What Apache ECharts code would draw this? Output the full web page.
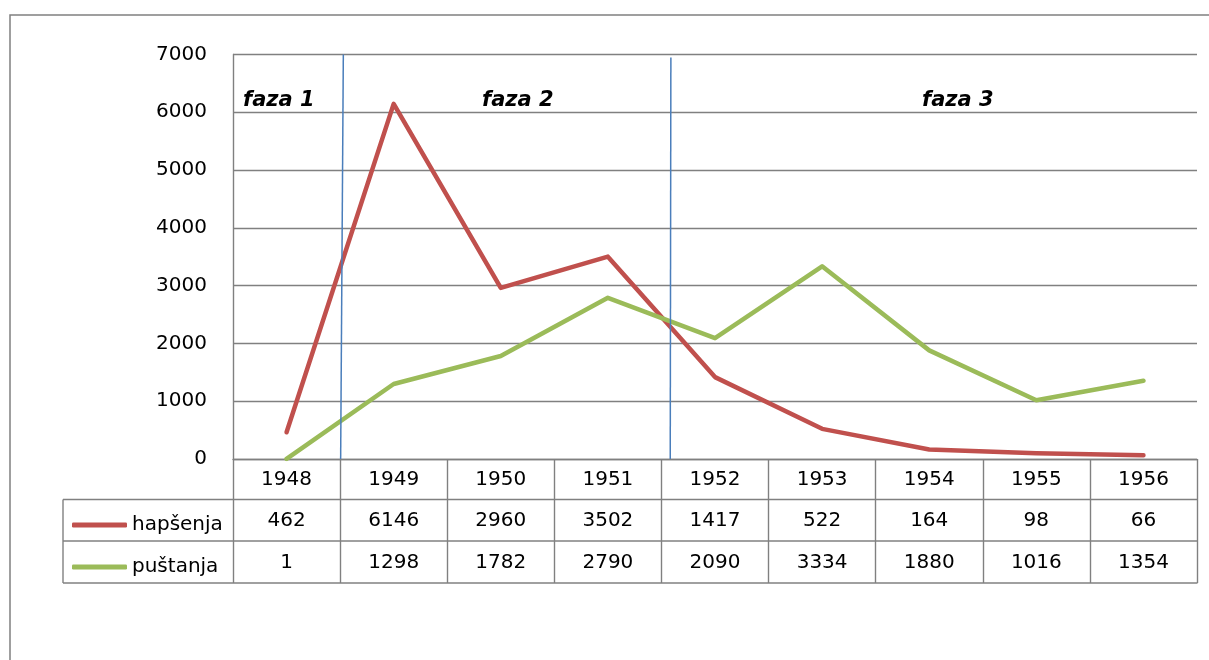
<!DOCTYPE html>
<html>
<head>
<meta charset="utf-8">
<script src="https://cdn.jsdelivr.net/npm/echarts@6/dist/echarts.min.js"></script>
<style>
  html, body { margin: 0; padding: 0; background: #fff; }
  #main { width: 1209px; height: 660px; }
</style>
</head>
<body>
<div id="main"></div>
<script>
// podaci
var years = ['1948', '1949', '1950', '1951', '1952', '1953', '1954', '1955', '1956'];
var hapsenja = [462, 6146, 2960, 3502, 1417, 522, 164, 98, 66];
var pustanja = [1, 1298, 1782, 2790, 2090, 3334, 1880, 1016, 1354];
var yTicks = [0, 1000, 2000, 3000, 4000, 5000, 6000, 7000];
// granice faza (u jedinicama kategorija, 0 = centar 1948)
var phaseLines = [[0.53, 7000, 0.505, 0], [3.588, 6948, 3.582, 0]];
var phaseNames = ['faza 1', 'faza 2', 'faza 3'];

var chart = echarts.init(document.getElementById('main'));
var font = 'DejaVu Sans';
var gray = '#808080';

var option = {
  animation: false,
  textStyle: { fontFamily: font },
  grid: { left: 233, right: 12, top: 54.5, bottom: 201 },
  legend: {
    orient: 'vertical',
    left: 67,
    top: 510,
    itemGap: 22,
    itemWidth: 55,
    itemHeight: 5,
    icon: 'roundRect',
    textStyle: { fontFamily: font, fontSize: 20, color: '#000', lineHeight: 20 },
    data: ['hapšenja', 'puštanja']
  },
  xAxis: [
    {
      type: 'category',
      data: years,
      boundaryGap: true,
      axisLine: { lineStyle: { color: gray, width: 1.4 } },
      axisTick: { show: true, interval: 0, length: 124, lineStyle: { color: gray, width: 1.4 } },
      axisLabel: {
        interval: 0,
        margin: 0,
        formatter: function (v, i) {
          return '{c|' + v + '}\n{c|' + hapsenja[i] + '}\n{c|' + pustanja[i] + '}';
        },
        rich: {
          c: { fontFamily: font, fontSize: 20, color: '#000', lineHeight: 41.5 }
        }
      }
    },
    { type: 'value', min: -0.5, max: 8.5, show: false }
  ],
  yAxis: {
    type: 'value',
    min: 0,
    max: 7000,
    interval: 1000,
    axisLine: { show: true, onZero: false, lineStyle: { color: gray, width: 1.4 } },
    axisTick: { show: false },
    splitLine: { lineStyle: { color: gray, width: 1.4 } },
    axisLabel: {
      margin: 26,
      fontFamily: font,
      fontSize: 20,
      color: '#000',
      formatter: function (v) { return yTicks.indexOf(v) >= 0 ? String(v) : ''; }
    }
  },
  series: [
    {
      name: 'hapšenja',
      type: 'line',
      data: hapsenja,
      showSymbol: false,
      color: '#C0504D',
      lineStyle: { width: 4.5, color: '#C0504D', cap: 'round', join: 'round' }
    },
    {
      name: 'puštanja',
      type: 'line',
      data: pustanja,
      showSymbol: false,
      color: '#9BBB59',
      lineStyle: { width: 4.5, color: '#9BBB59', cap: 'round', join: 'round' }
    },
    {
      type: 'line',
      xAxisIndex: 1,
      data: [],
      clip: false,
      markLine: {
        silent: true,
        symbol: 'none',
        label: { show: false },
        lineStyle: { color: '#4A7EBB', width: 1.5, type: 'solid' },
        data: phaseLines.map(function (p) {
          return [{ coord: [p[0], p[1]] }, { coord: [p[2], p[3]] }];
        })
      }
    }
  ],
  graphic: [
    // okvir
    { type: 'polyline', shape: { points: [[10, 660], [10, 15], [1209, 15]] }, style: { stroke: gray, lineWidth: 1.5, fill: null } },
    // tablica podataka
    { type: 'line', shape: { x1: 63, y1: 499.5, x2: 1197.5, y2: 499.5 }, style: { stroke: gray, lineWidth: 1.4 } },
    { type: 'line', shape: { x1: 63, y1: 541, x2: 1197.5, y2: 541 }, style: { stroke: gray, lineWidth: 1.4 } },
    { type: 'line', shape: { x1: 63, y1: 583, x2: 1197.5, y2: 583 }, style: { stroke: gray, lineWidth: 1.4 } },
    { type: 'line', shape: { x1: 63, y1: 499.5, x2: 63, y2: 583 }, style: { stroke: gray, lineWidth: 1.4 } },
    // nazivi faza
    { type: 'text', left: 243, top: 90, style: { text: phaseNames[0], font: 'italic bold 21px "DejaVu Sans"', fill: '#000' } },
    { type: 'text', left: 482, top: 90, style: { text: phaseNames[1], font: 'italic bold 21px "DejaVu Sans"', fill: '#000' } },
    { type: 'text', left: 922, top: 90, style: { text: phaseNames[2], font: 'italic bold 21px "DejaVu Sans"', fill: '#000' } }
  ]
};

chart.setOption(option);
</script>
</body>
</html>
